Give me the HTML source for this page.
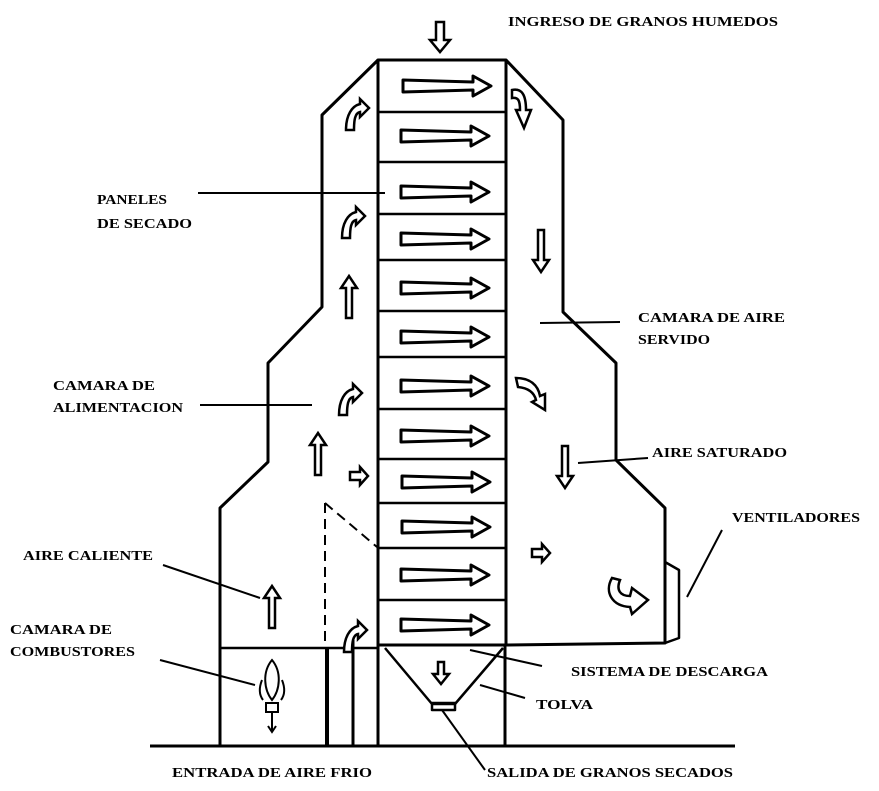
<!DOCTYPE html>
<html><head><meta charset="utf-8"><style>
html,body{margin:0;padding:0;background:#fff;}
svg{display:block;}
text{font-family:"Liberation Serif",serif;font-weight:bold;font-size:14px;fill:#000;}
</style></head><body>
<svg width="879" height="791" viewBox="0 0 879 791" xmlns="http://www.w3.org/2000/svg">
<defs>
<path id="ra" d="M0,-6 L70,-4 L70,-10 L88,0 L70,10 L70,4 L0,6 Z" fill="#fff" stroke="#000" stroke-width="3" stroke-linejoin="round"/>
<path id="ua" d="M-3,0 L-3,-30 L-8,-30 L0,-42 L8,-30 L3,-30 L3,0 Z" fill="#fff" stroke="#000" stroke-width="2.5"/>
<path id="da" d="M-3,0 L-3,30 L-8,30 L0,42 L8,30 L3,30 L3,0 Z" fill="#fff" stroke="#000" stroke-width="2.5"/>
<path id="ca" d="M-6,20 C-6,5 0,-4 8,-6 L8,-11 L17,-2 L8,7 L8,2 C3,3 2,10 2,20 Z" fill="#fff" stroke="#000" stroke-width="2.5"/>
<path id="sr" d="M-8,-4 L2,-4 L2,-9 L10,0 L2,9 L2,4 L-8,4 Z" fill="#fff" stroke="#000" stroke-width="2.5"/>
</defs>
<g stroke="#000" stroke-width="3" fill="none" stroke-linejoin="round">
<polyline points="378,60 322,115 322,307 268,363 268,462 220,508 220,745"/>
<polyline points="506,60 563,120 563,312 616,363 616,460 665,508 665,643 506,645"/>
<polyline points="665,562 679,570 679,638 665,643" stroke-width="2.5"/>
<rect x="378" y="60" width="128" height="585"/>
<g stroke-width="2.5">
<line x1="378" y1="112" x2="506" y2="112"/><line x1="378" y1="162" x2="506" y2="162"/>
<line x1="378" y1="214" x2="506" y2="214"/><line x1="378" y1="260" x2="506" y2="260"/>
<line x1="378" y1="311" x2="506" y2="311"/><line x1="378" y1="357" x2="506" y2="357"/>
<line x1="378" y1="409" x2="506" y2="409"/><line x1="378" y1="459" x2="506" y2="459"/>
<line x1="378" y1="503" x2="506" y2="503"/><line x1="378" y1="548" x2="506" y2="548"/>
<line x1="378" y1="600" x2="506" y2="600"/>
</g>
<line x1="378" y1="645" x2="378" y2="745"/>
<line x1="505" y1="645" x2="505" y2="745"/>
<line x1="220" y1="648" x2="378" y2="648" stroke-width="2.5"/>
<line x1="150" y1="746" x2="735" y2="746"/>
<line x1="327" y1="648" x2="327" y2="745" stroke-width="4"/>
<line x1="353" y1="640" x2="353" y2="745"/>
<line x1="325" y1="503" x2="325" y2="648" stroke-dasharray="10,6" stroke-width="2"/>
<line x1="325" y1="503" x2="377" y2="547" stroke-dasharray="10,6" stroke-width="2"/>
<polyline points="385,648 432,704 455,704 503,648" stroke-width="2.5"/>
<rect x="432" y="703" width="23" height="7" stroke-width="2.5"/>
<g stroke-width="2">
<line x1="198" y1="193" x2="385" y2="193"/>
<line x1="540" y1="323" x2="620" y2="322"/>
<line x1="200" y1="405" x2="312" y2="405"/>
<line x1="578" y1="463" x2="648" y2="458"/>
<line x1="687" y1="597" x2="722" y2="530"/>
<line x1="163" y1="565" x2="260" y2="598"/>
<line x1="160" y1="660" x2="255" y2="685"/>
<line x1="470" y1="650" x2="542" y2="666"/>
<line x1="480" y1="685" x2="525" y2="698"/>
<line x1="442" y1="710" x2="485" y2="770"/>
</g>
</g>
<use href="#ra" x="403" y="86"/><use href="#ra" x="401" y="136"/><use href="#ra" x="401" y="192"/>
<use href="#ra" x="401" y="239"/><use href="#ra" x="401" y="288"/><use href="#ra" x="401" y="337"/>
<use href="#ra" x="401" y="386"/><use href="#ra" x="401" y="436"/><use href="#ra" x="402" y="482"/>
<use href="#ra" x="402" y="527"/><use href="#ra" x="401" y="575"/><use href="#ra" x="401" y="625"/>
<path d="M436,22 L444,22 L444,40 L450,40 L440,52 L430,40 L436,40 Z" fill="#fff" stroke="#000" stroke-width="2.5"/>
<use href="#ca" x="352" y="110"/>
<use href="#ca" x="348" y="218"/>
<use href="#ua" x="349" y="318"/>
<use href="#ca" x="345" y="395"/>
<use href="#ua" x="318" y="475"/>
<use href="#sr" x="358" y="476"/>
<use href="#ua" x="272" y="628"/>
<use href="#ca" x="350" y="632"/>
<path d="M512,90 C522,88 526,95 526,110 L531,110 L524,128 L516,110 L520,110 C520,100 518,97 512,98 Z" fill="#fff" stroke="#000" stroke-width="2.5"/>
<use href="#da" x="541" y="230"/>
<path d="M516,378 C530,378 538,385 540,396 L545,394 L545,410 L532,402 L536,400 C534,392 528,388 518,387 Z" fill="#fff" stroke="#000" stroke-width="2.5"/>
<use href="#da" x="565" y="446"/>
<use href="#sr" x="540" y="553"/>
<path d="M612,578 C604,592 612,606 630,607 L632,614 L648,600 L632,588 L630,596 C620,596 616,590 620,580 Z" fill="#fff" stroke="#000" stroke-width="2.5"/>
<g fill="none" stroke="#000" stroke-width="2">
<path d="M272,660 C262,672 264,690 272,700 C280,690 282,672 272,660 Z"/>
<path d="M262,680 C258,690 260,696 263,700"/><path d="M282,680 C286,690 284,696 281,700"/>
<rect x="266" y="703" width="12" height="9" fill="#fff"/>
<line x1="272" y1="712" x2="272" y2="730"/>
<path d="M268,726 L272,732 L276,726"/>
</g>
<path d="M438,662 L444,662 L444,674 L449,674 L441,684 L433,674 L438,674 Z" fill="#fff" stroke="#000" stroke-width="2.5"/>
<text x="508" y="26" textLength="270" lengthAdjust="spacingAndGlyphs">INGRESO DE GRANOS   HUMEDOS</text>
<text x="97" y="204" textLength="70" lengthAdjust="spacingAndGlyphs">PANELES</text>
<text x="97" y="228" textLength="95" lengthAdjust="spacingAndGlyphs">DE SECADO</text>
<text x="638" y="322" textLength="147" lengthAdjust="spacingAndGlyphs">CAMARA DE AIRE</text>
<text x="638" y="344" textLength="72" lengthAdjust="spacingAndGlyphs">SERVIDO</text>
<text x="53" y="390" textLength="102" lengthAdjust="spacingAndGlyphs">CAMARA DE</text>
<text x="53" y="412" textLength="130" lengthAdjust="spacingAndGlyphs">ALIMENTACION</text>
<text x="652" y="457" textLength="135" lengthAdjust="spacingAndGlyphs">AIRE SATURADO</text>
<text x="732" y="522" textLength="128" lengthAdjust="spacingAndGlyphs">VENTILADORES</text>
<text x="23" y="560" textLength="130" lengthAdjust="spacingAndGlyphs">AIRE CALIENTE</text>
<text x="10" y="634" textLength="102" lengthAdjust="spacingAndGlyphs">CAMARA DE</text>
<text x="10" y="656" textLength="125" lengthAdjust="spacingAndGlyphs">COMBUSTORES</text>
<text x="571" y="676" textLength="197" lengthAdjust="spacingAndGlyphs">SISTEMA DE DESCARGA</text>
<text x="536" y="709" textLength="57" lengthAdjust="spacingAndGlyphs">TOLVA</text>
<text x="172" y="777" textLength="200" lengthAdjust="spacingAndGlyphs">ENTRADA DE AIRE  FRIO</text>
<text x="487" y="777" textLength="246" lengthAdjust="spacingAndGlyphs">SALIDA DE GRANOS SECADOS</text>
</svg>
</body></html>
